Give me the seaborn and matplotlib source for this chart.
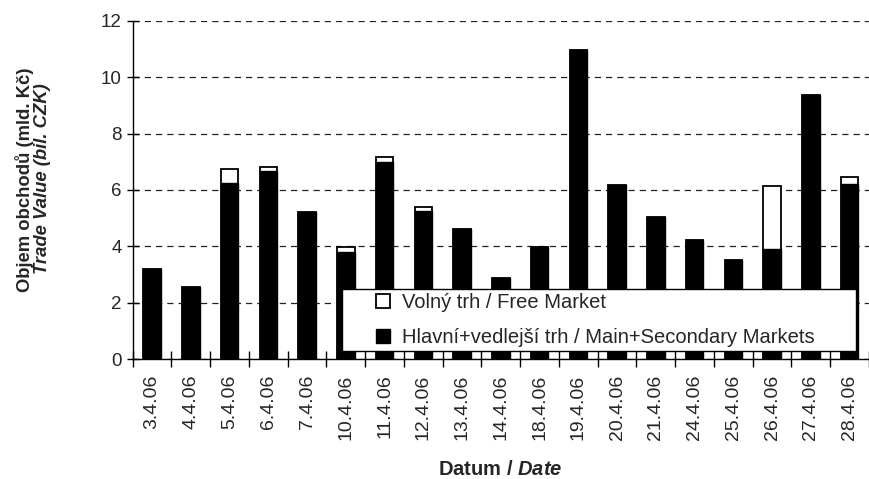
import numpy as np
import pandas as pd
import matplotlib
matplotlib.use("Agg")
import matplotlib.pyplot as plt
import seaborn as sns
from matplotlib.patches import Patch, Rectangle
from matplotlib.legend_handler import HandlerPatch
from matplotlib.ticker import FixedLocator

# Trade value by day (bil. CZK)
dates = ["3.4.06", "4.4.06", "5.4.06", "6.4.06", "7.4.06", "10.4.06", "11.4.06",
         "12.4.06", "13.4.06", "14.4.06", "18.4.06", "19.4.06", "20.4.06", "21.4.06",
         "24.4.06", "25.4.06", "26.4.06", "27.4.06", "28.4.06"]
main_markets = [3.21, 2.57, 6.24, 6.67, 5.23, 3.79, 7.0, 5.24, 4.62, 2.89,
                3.97, 10.96, 6.18, 5.03, 4.23, 3.52, 3.92, 9.37, 6.2]
free_market = [0.0, 0.0, 0.52, 0.15, 0.0, 0.2, 0.16, 0.16, 0.0, 0.0,
               0.0, 0.0, 0.0, 0.0, 0.0, 0.0, 2.23, 0.0, 0.27]

df = pd.DataFrame({"date": dates, "main": main_markets, "free": free_market})
df["total"] = df["main"] + df["free"]

sns.set_theme(style="white")
plt.rcParams["font.family"] = ["Liberation Sans", "DejaVu Sans"]
plt.rcParams["mathtext.fontset"] = "custom"
plt.rcParams["mathtext.bfit"] = "Liberation Sans:italic:bold"
plt.rcParams["mathtext.rm"] = "Liberation Sans"

fig = plt.figure(figsize=(8.69, 4.79), dpi=100)
ax = fig.add_axes([0.1527, 0.2499, 0.8473, 0.7069])

# total (white = free market part) behind, main markets on top
sns.barplot(data=df, x="date", y="total", color="white", edgecolor="black",
            linewidth=1.3, width=0.45, saturation=1, ax=ax, zorder=2)
sns.barplot(data=df, x="date", y="main", color="black", edgecolor="black",
            linewidth=1.0, width=0.45, saturation=1, ax=ax, zorder=3)

ax.set_ylim(0, 12)
ax.set_xlim(-0.5, len(dates) - 0.5)
ax.set_yticks(np.arange(0, 13, 2))
ax.yaxis.grid(True, color="#222222", linestyle=(0, (5, 4)), linewidth=0.9)
ax.xaxis.grid(False)
ax.set_axisbelow(True)

for s in ["top", "right"]:
    ax.spines[s].set_visible(False)
for s in ["left", "bottom"]:
    ax.spines[s].set_color("black")
    ax.spines[s].set_linewidth(1.0)

ax.tick_params(axis="y", which="major", direction="inout", length=8, width=1,
               color="black", labelsize=13.5, pad=4, left=True)
ax.xaxis.set_minor_locator(FixedLocator(np.arange(-0.5, len(dates), 1.0)))
ax.tick_params(axis="x", which="minor", direction="inout", length=12, width=1,
               color="black", bottom=True)
ax.tick_params(axis="x", which="major", length=0, labelsize=14, pad=11,
               labelrotation=90)

ax.set_xlabel("")
ax.set_ylabel("")

fig.text(0.576, 0.019, r"Datum / $\mathbfit{Date}$", ha="center", va="center",
         fontsize=14.5, fontweight="bold")
fig.text(0.028, 0.624, "Objem obchodů (mld. Kč)", rotation=90, ha="center",
         va="center", fontsize=13.3, fontweight="bold")
fig.text(0.049, 0.628, "Trade Value (bil. CZK)", rotation=90, ha="center",
         va="center", fontsize=13.3, fontweight="bold", fontstyle="italic")


def square_patch(legend, orig_handle, xdescent, ydescent, width, height, fontsize):
    return Rectangle((-xdescent + width - height - 0.22 * fontsize, -ydescent),
                     height, height)


handles = [Patch(facecolor="white", edgecolor="black", linewidth=1.3),
           Patch(facecolor="black", edgecolor="black", linewidth=1.0)]
labels = ["Volný trh / Free Market", "Hlavní+vedlejší trh / Main+Secondary Markets"]
leg = ax.legend(handles, labels, loc="lower left",
                bbox_to_anchor=(0.284, 0.0245, 0.698, 0.2), mode="expand",
                borderaxespad=0, fontsize=14.5, handlelength=2.4, handleheight=0.7,
                handletextpad=0.4, borderpad=0.2, labelspacing=0.8,
                fancybox=False, framealpha=1, edgecolor="black",
                handler_map={Patch: HandlerPatch(patch_func=square_patch)})
leg.get_frame().set_linewidth(1.0)

fig.savefig("out.png", dpi=100)
